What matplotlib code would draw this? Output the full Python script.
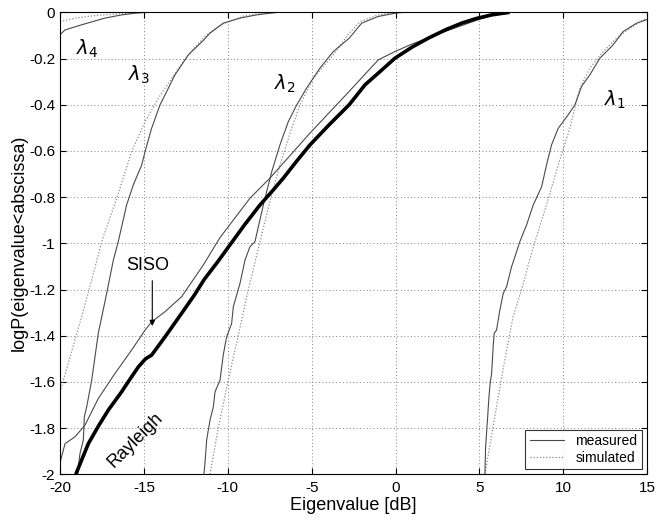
import numpy as np
import matplotlib
matplotlib.use('Agg')
import matplotlib.pyplot as plt

plt.rcParams['font.family'] = ['Liberation Sans', 'DejaVu Sans']
plt.rcParams['axes.unicode_minus'] = False

# curves (eigenvalue in dB, log10 CDF)
rayleigh_x = [-19.06, -18.31, -17.7, -17.12, -16.33, -15.8, -15.33, -14.9, -14.54, -13.74,
              -12.75, -12.0, -11.40, -10.6, -9.9, -9.0, -8.08, -7.3, -6.69, -5.9, -5.10,
              -4.0, -2.76, -1.82, -0.9, -0.04, 1.0, 1.95, 3.0, 3.94, 4.8, 5.73, 6.8]
rayleigh_y = [-2.0, -1.867, -1.79, -1.722, -1.643, -1.585, -1.535, -1.50, -1.484, -1.405,
              -1.303, -1.225, -1.156, -1.08, -1.01, -0.92, -0.834, -0.77, -0.718, -0.645,
              -0.574, -0.49, -0.40, -0.314, -0.255, -0.199, -0.15, -0.112, -0.075, -0.047,
              -0.027, -0.011, 0.0]

siso_x = [-20, -19.70, -19.11, -18.51, -17.72, -16.72, -15.73, -14.93, -14.54, -13.74,
          -12.75, -11.46, -10.46, -8.68, -7.49, -5.10, -2.9, -1.03, -0.04, 0.96, 2.95, 4.93, 5.92, 6.6]
siso_y = [-1.95, -1.867, -1.838, -1.787, -1.672, -1.563, -1.462, -1.376, -1.340, -1.296,
          -1.231, -1.094, -0.975, -0.805, -0.718, -0.523, -0.353, -0.206, -0.170, -0.138,
          -0.083, -0.032, -0.011, 0.0]

l4_meas_x = [-20, -19.70, -18.71, -17.32, -16.32, -15.53, -15.0, -14.3]
l4_meas_y = [-0.097, -0.076, -0.054, -0.025, -0.011, -0.004, -0.001, 0.0]
l4_sim_x = [-20, -19.1, -17.9, -16.3, -15.5, -15.0]
l4_sim_y = [-0.040, -0.025, -0.014, -0.006, -0.002, 0.0]

l3_meas_x = [-18.95, -18.91, -18.81, -18.61, -18.55, -18.41, -18.11, -17.72, -17.22, -16.82,
             -16.52, -16.03, -15.63, -15.13, -14.93, -14.54, -14.04, -13.15, -12.35, -11.46,
             -11.06, -10.27, -9.27, -8.28, -7.49, -7.0]
l3_meas_y = [-2.0, -1.968, -1.91, -1.852, -1.751, -1.708, -1.592, -1.39, -1.217, -1.072,
             -0.99, -0.834, -0.747, -0.661, -0.603, -0.502, -0.401, -0.271, -0.184, -0.122,
             -0.090, -0.047, -0.025, -0.011, -0.004, 0.0]
l3_sim_x = [-20, -18.71, -18.11, -17.52, -16.62, -15.73, -14.93, -14.14, -13.15, -12.2,
            -11.3, -10.3, -9.0, -7.5]
l3_sim_y = [-1.643, -1.318, -1.159, -0.993, -0.805, -0.603, -0.473, -0.372, -0.265, -0.17,
            -0.10, -0.05, -0.015, 0.0]

l2_meas_x = [-11.42, -11.36, -11.26, -11.06, -10.86, -10.76, -10.46, -10.27, -10.07, -9.77,
             -9.67, -9.27, -8.97, -8.68, -8.38, -7.88, -7.38, -6.89, -6.39, -5.89, -5.30,
             -4.51, -3.71, -2.76, -2.02, -1.03, -0.04, 0.5]
l2_meas_y = [-2.0, -1.953, -1.852, -1.766, -1.708, -1.643, -1.592, -1.484, -1.405, -1.347,
             -1.275, -1.173, -1.072, -1.015, -0.993, -0.834, -0.690, -0.574, -0.473, -0.401,
             -0.328, -0.242, -0.170, -0.112, -0.047, -0.018, -0.004, 0.0]
l2_sim_x = [-11.06, -10.57, -9.97, -9.37, -8.78, -8.08, -7.49, -6.89, -6.19, -5.69, -4.90,
            -3.71, -2.76, -2.1, -1.03, 0.0]
l2_sim_y = [-2.0, -1.80, -1.592, -1.397, -1.202, -0.993, -0.820, -0.661, -0.502, -0.401,
            -0.285, -0.184, -0.09, -0.04, -0.011, 0.0]

l1_meas_x = [5.33, 5.37, 5.48, 5.57, 5.64, 5.73, 5.82, 5.88, 6.02, 6.22, 6.42, 6.62, 6.92,
             7.12, 7.41, 7.81, 8.21, 8.71, 9.0, 9.30, 9.70, 10.29, 10.69, 11.09, 11.58,
             12.18, 12.97, 13.57, 14.37, 14.96]
l1_meas_y = [-2.0, -1.881, -1.766, -1.665, -1.607, -1.563, -1.448, -1.39, -1.376, -1.289,
             -1.217, -1.188, -1.101, -1.058, -0.993, -0.921, -0.834, -0.755, -0.661, -0.574,
             -0.502, -0.444, -0.401, -0.321, -0.271, -0.199, -0.141, -0.083, -0.047, -0.032]
l1_sim_x = [5.33, 5.8, 6.4, 7.0, 7.6, 8.0, 8.31, 9.0, 9.70, 10.39, 10.99, 11.58, 12.38,
            13.18, 13.97, 14.96]
l1_sim_y = [-2.0, -1.8, -1.55, -1.32, -1.18, -1.07, -0.993, -0.834, -0.661, -0.502, -0.328,
            -0.242, -0.170, -0.112, -0.069, -0.025]

x_ticks = [-20, -15, -10, -5, 0, 5, 10, 15]
y_ticks = [-2, -1.8, -1.6, -1.4, -1.2, -1, -0.8, -0.6, -0.4, -0.2, 0]
y_ticklabels = ['-2', '-1.8', '-1.6', '-1.4', '-1.2', '-1', '-0.8', '-0.6', '-0.4', '-0.2', '0']

meas_col = '#4a4a4a'
sim_col = '#8c8c8c'

fig = plt.figure(figsize=(6.56, 5.22), dpi=100)
ax = fig.add_axes([0.0915, 0.0914, 0.895, 0.885])

sim_dots = (0, (1, 1.5))
for xs, ys in [(l4_sim_x, l4_sim_y), (l3_sim_x, l3_sim_y), (l2_sim_x, l2_sim_y), (l1_sim_x, l1_sim_y)]:
    ax.plot(xs, ys, color=sim_col, lw=0.9, linestyle=sim_dots)
for xs, ys in [(l4_meas_x, l4_meas_y), (l3_meas_x, l3_meas_y), (l2_meas_x, l2_meas_y),
               (l1_meas_x, l1_meas_y), (siso_x, siso_y)]:
    ax.plot(xs, ys, color=meas_col, lw=0.8)
ax.plot(rayleigh_x, rayleigh_y, color='black', lw=2.6, solid_capstyle='butt',
        solid_joinstyle='round')

# legend entries
ax.plot([], [], color=meas_col, lw=0.8, label='measured')
ax.plot([], [], color=sim_col, lw=0.9, linestyle=sim_dots, label='simulated')
leg = ax.legend(loc='lower right', fontsize=10, frameon=True, fancybox=False,
                handlelength=2.5, borderpad=0.3, labelspacing=0.2,
                borderaxespad=0.4)
leg.get_frame().set_edgecolor('black')
leg.get_frame().set_linewidth(0.8)

# labels on curves
ax.text(-18.4, -0.16, r'$\lambda_4$', fontsize=14, ha='center', va='center')
ax.text(-15.3, -0.27, r'$\lambda_3$', fontsize=14, ha='center', va='center')
ax.text(-6.6, -0.31, r'$\lambda_2$', fontsize=14, ha='center', va='center')
ax.text(13.1, -0.38, r'$\lambda_1$', fontsize=14, ha='center', va='center')
ax.text(-14.8, -1.094, 'SISO', fontsize=13, ha='center', va='center')
ax.annotate('', xy=(-14.5, -1.37), xytext=(-14.5, -1.15),
            arrowprops=dict(arrowstyle='-|>', color='black', lw=0.8, mutation_scale=8))
ax.text(-15.5, -1.85, 'Rayleigh', fontsize=13, ha='center', va='center', rotation=45)

ax.set_xlim(-20, 15)
ax.set_ylim(-2, 0)
ax.set_xticks(x_ticks)
ax.set_yticks(y_ticks)
ax.set_yticklabels(y_ticklabels)
ax.tick_params(direction='in', top=True, right=True, labelsize=11, length=4)
ax.tick_params(axis='x', pad=5)
ax.grid(True, color='#808080', linestyle=(0, (1, 2.5)), lw=0.7)
for s in ax.spines.values():
    s.set_linewidth(0.8)

ax.set_xlabel('Eigenvalue [dB]', fontsize=13, labelpad=1)
ax.set_ylabel('logP(eigenvalue<abscissa)', fontsize=13, labelpad=1)

fig.savefig('out.png', dpi=100)
